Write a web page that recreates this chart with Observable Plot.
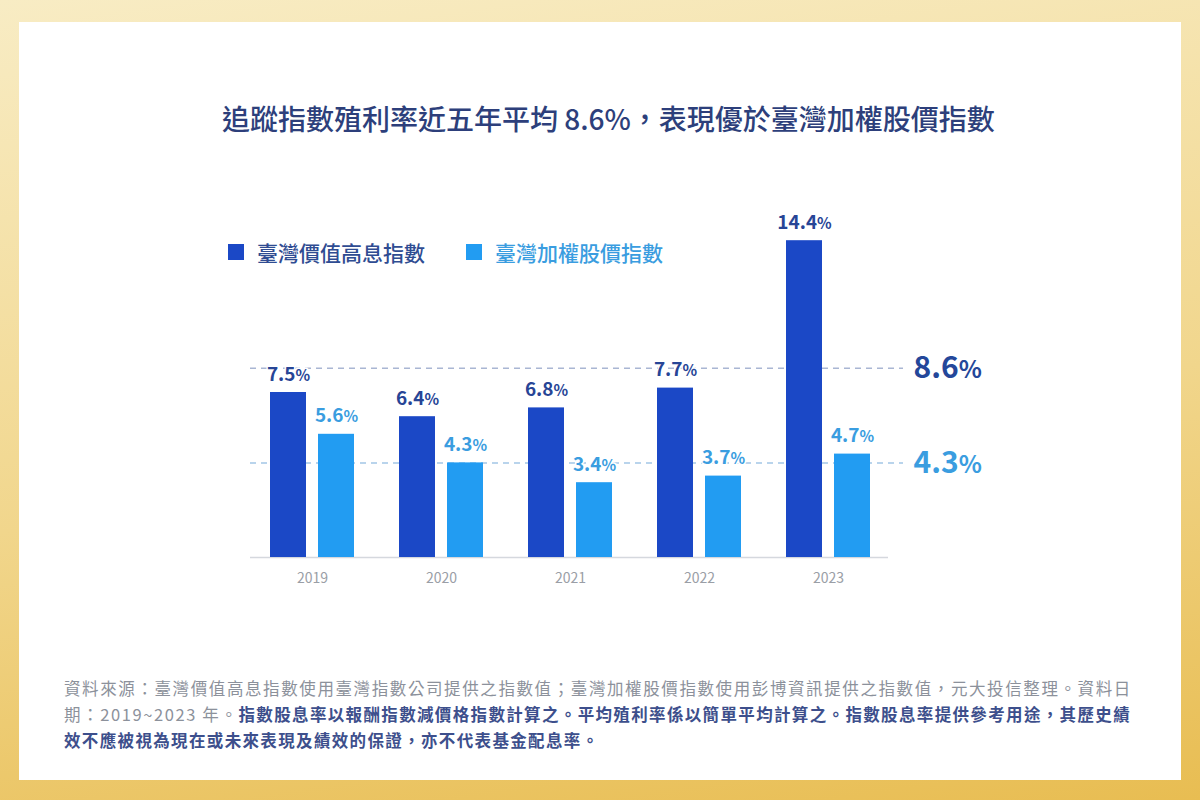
<!DOCTYPE html>
<html lang="zh-Hant">
<head>
<meta charset="utf-8">
<script src="https://cdn.jsdelivr.net/npm/d3@7"></script>
<script src="https://cdn.jsdelivr.net/npm/@observablehq/plot@0.6"></script>
<style>
  html, body { margin: 0; padding: 0; }
  body {
    width: 1200px; height: 800px; position: relative; overflow: hidden;
    background: linear-gradient(172deg, #f8ecc4 0%, #f1d68c 55%, #e8bd52 100%);
    font-family: "Noto Sans CJK TC", "Noto Sans", sans-serif;
  }
  #panel { position: absolute; left: 19px; top: 22px; width: 1162px; height: 758px; background: #fff; }
  #title {
    position: absolute; left: 222px; top: 102px; white-space: nowrap;
    font-size: 28px; line-height: 32px; font-weight: 500; color: #2d3f7b;
  }
  #legend {
    position: absolute; left: 228px; top: 238px; display: flex; align-items: center;
    font-size: 21px; line-height: 28px; font-weight: 500; white-space: nowrap;
  }
  #legend .item { display: flex; align-items: center; margin-right: 41px; }
  #legend .sw { width: 16px; height: 16px; margin-right: 13px; }
  #chart { position: absolute; left: 0; top: 200px; }
  #note {
    position: absolute; left: 64px; top: 675px; white-space: nowrap;
    font-size: 16.5px; line-height: 26px; letter-spacing: 1.6px; color: #8c919b;
  }
  #note b { color: #3d4f8c; font-weight: 700; letter-spacing: 1.35px; }
</style>
</head>
<body>
<div id="panel"></div>
<div id="title"></div>
<div id="legend"></div>
<div id="chart"></div>
<div id="note"></div>
<script>
// Annual dividend yield (%) by year for the two indices
const years = ["2019", "2020", "2021", "2022", "2023"];
const highDividendYield = [7.5, 6.4, 6.8, 7.7, 14.4];
const taiexYield = [5.6, 4.3, 3.4, 3.7, 4.7];
const seriesNames = ["臺灣價值高息指數", "臺灣加權股價指數"];
const fiveYearAverages = [8.6, 4.3];

const titleText = "追蹤指數殖利率近五年平均 8.6%，表現優於臺灣加權股價指數";
const noteLines = [
  ["資料來源：臺灣價值高息指數使用臺灣指數公司提供之指數值；臺灣加權股價指數使用彭博資訊提供之指數值，元大投信整理。資料日", ""],
  ["期：2019~2023 年。", "指數股息率以報酬指數減價格指數計算之。平均殖利率係以簡單平均計算之。指數股息率提供參考用途，其歷史績"],
  ["", "效不應被視為現在或未來表現及績效的保證，亦不代表基金配息率。"]
];

const darkBar = "#1b48c6", lightBar = "#229cf2";
const darkText = "#274596", lightText = "#3a9de0";

document.getElementById("title").textContent = titleText;

const legend = d3.select("#legend");
[[seriesNames[0], darkBar, "#2f4c92"], [seriesNames[1], lightBar, "#3a9de0"]].forEach(([name, c, tc]) => {
  const it = legend.append("div").attr("class", "item");
  it.append("div").attr("class", "sw").style("background", c);
  it.append("span").style("color", tc).text(name);
});

const note = d3.select("#note");
noteLines.forEach(([plain, bold], i) => {
  if (plain) note.append("span").text(plain);
  if (bold) note.append("b").text(bold);
  if (i < noteLines.length - 1) note.append("br");
});

const rows = years.map((year, i) => ({year, high: highDividendYield[i], taiex: taiexYield[i]}));

const chart = Plot.plot({
  width: 1200,
  height: 400,
  marginLeft: 250,
  marginRight: 297,
  marginTop: 27,
  marginBottom: 43,
  style: {fontFamily: "'Noto Sans CJK TC', 'Noto Sans', sans-serif", background: "transparent", overflow: "visible"},
  x: {domain: years, range: [247.5, 892.5], paddingInner: 45 / 129, paddingOuter: 22.5 / 129, label: null},
  y: {domain: [0, 15], axis: null},
  marks: [
    Plot.ruleY([fiveYearAverages[0]], {stroke: "#a9b6d3", strokeWidth: 1.5, strokeDasharray: "6,5"}),
    Plot.ruleY([fiveYearAverages[1]], {stroke: "#a3c6e6", strokeWidth: 1.5, strokeDasharray: "6,5"}),
    Plot.ruleY([0], {stroke: "#d5d8de", strokeWidth: 1.5, insetRight: 15}),
    Plot.barY(rows, {x: "year", y: "high", fill: darkBar, insetRight: 48}),
    Plot.barY(rows, {x: "year", y: "taiex", fill: lightBar, insetLeft: 48}),
    Plot.text(rows, {
      x: "year", y: "high", text: d => d.high.toFixed(1) + "%", dx: -24, dy: -18,
      fill: darkText, fontSize: 19, fontWeight: 700, stroke: "white", strokeWidth: 3
    }),
    Plot.text(rows, {
      x: "year", y: "taiex", text: d => d.taiex.toFixed(1) + "%", dx: 24, dy: -18,
      fill: lightText, fontSize: 19, fontWeight: 700, stroke: "white", strokeWidth: 3
    }),
    Plot.text([fiveYearAverages[0]], {
      y: d => d, text: d => d.toFixed(1) + "%", frameAnchor: "right", textAnchor: "start", dx: 10,
      fill: "#24479a", fontSize: 30, fontWeight: 700
    }),
    Plot.text([fiveYearAverages[1]], {
      y: d => d, text: d => d.toFixed(1) + "%", frameAnchor: "right", textAnchor: "start", dx: 10,
      fill: "#3a9de0", fontSize: 30, fontWeight: 700
    }),
    Plot.axisX({tickSize: 0, tickPadding: 16, fontSize: 14, color: "#9a9ea6", label: null})
  ]
});

// Render the percent sign a little smaller than the digits
d3.select(chart).selectAll("text").each(function () {
  const m = this.textContent.match(/^([\d.]+)%$/);
  if (!m) return;
  const t = d3.select(this);
  t.text(null);
  t.append("tspan").text(m[1]);
  t.append("tspan").attr("font-size", "0.8em").text("%");
});

document.getElementById("chart").appendChild(chart);
</script>
</body>
</html>
